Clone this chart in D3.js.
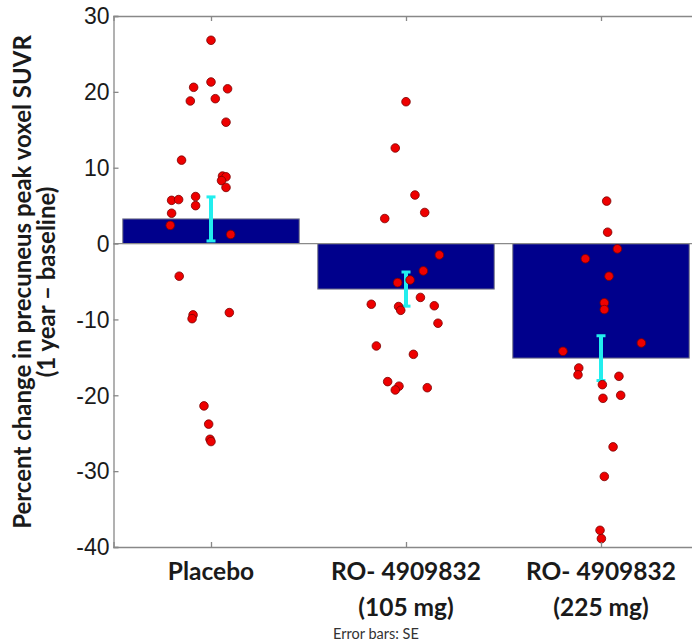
<!DOCTYPE html>
<html>
<head>
<meta charset="utf-8">
<script src="https://cdn.jsdelivr.net/npm/d3@7"></script>
<style>
  body { margin: 0; background: #fff; }
  svg { display: block; }
</style>
</head>
<body>
<script>
// groups and their summary stats
var groups = ["Placebo", "RO- 4909832|(105 mg)", "RO- 4909832|(225 mg)"];
var means = [3.25, -6.0, -15.1];
var errSE = [2.9, 2.25, 2.95];

// individual subjects: value and jitter (in category units)
var placeboVals = [26.8, 21.3, 20.6, 20.4, 18.8, 19.1, 16.0, 11.0, 8.9, 8.8, 8.3, 7.4, 5.7, 5.8, 6.2, 5.0, 4.0, 2.4, 1.2, -4.3, -9.4, -9.9, -9.1, -21.4, -23.8, -25.8, -26.1];
var placeboJit = [0, 0, -0.089, 0.085, -0.106, 0.022, 0.077, -0.151, 0.059, 0.077, 0.054, 0.077, -0.202, -0.166, -0.079, -0.079, -0.202, -0.209, 0.101, -0.163, -0.092, -0.097, 0.094, -0.036, -0.012, -0.005, 0];

var lowVals = [18.7, 12.6, 6.4, 4.1, 3.3, -1.5, -3.6, -5.15, -4.8, -7.1, -8.0, -8.3, -8.8, -8.2, -10.5, -13.5, -14.6, -18.2, -18.8, -19.3, -19.0];
var lowJit = [0, -0.055, 0.046, 0.096, -0.109, 0.171, 0.089, -0.043, 0.021, 0.074, -0.178, -0.038, -0.027, 0.145, 0.164, -0.152, 0.038, -0.094, -0.036, -0.055, 0.109];

var highVals = [5.6, 1.5, -0.7, -2.0, -4.3, -7.8, -8.7, -13.1, -14.2, -16.4, -17.3, -17.5, -18.6, -20.4, -20.0, -26.8, -30.7, -37.8, -38.9];
var highJit = [0.029, 0.034, 0.084, -0.080, 0.041, 0.017, 0.017, 0.207, -0.195, -0.114, -0.118, 0.092, 0.007, 0.010, 0.101, 0.062, 0.017, -0.005, 0.002];

var yTicks = [30, 20, 10, 0, -10, -20, -30, -40];

var W = 692, H = 642;
var plotL = 113.5, plotT = 16, plotB = 547, plotR = 698.5;

var svg = d3.select("body").append("svg")
	.attr("width", W)
	.attr("height", H);

var x = d3.scaleLinear().domain([-0.5, 2.5]).range([plotL, plotR]);
var y = d3.scaleLinear().domain([-40, 30]).range([plotB, plotT]);
var barW = 0.905;

var points = [];
[placeboVals, lowVals, highVals].forEach(function (vals, g) {
	var jit = [placeboJit, lowJit, highJit][g];
	vals.forEach(function (v, i) { points.push({g: g, v: v, j: jit[i]}); });
});

// bars
svg.append("g").selectAll("rect")
	.data(means)
	.enter().append("rect")
	.attr("x", function (d, i) { return x(i - barW / 2); })
	.attr("width", x(barW) - x(0))
	.attr("y", function (d) { return y(Math.max(0, d)); })
	.attr("height", function (d) { return Math.abs(y(d) - y(0)); })
	.attr("fill", "#00008c")
	.attr("stroke", "#7a7a8a")
	.attr("stroke-width", 1);

// baseline at 0
svg.append("line")
	.attr("x1", plotL).attr("x2", W)
	.attr("y1", y(0)).attr("y2", y(0))
	.attr("stroke", "#8a8a8a")
	.attr("stroke-width", 1.2);

// error bars
var eb = svg.append("g").selectAll("g")
	.data(means)
	.enter().append("g")
	.attr("stroke", "#22eeee");
eb.append("line")
	.attr("x1", function (d, i) { return x(i); })
	.attr("x2", function (d, i) { return x(i); })
	.attr("y1", function (d, i) { return y(d + errSE[i]); })
	.attr("y2", function (d, i) { return y(d - errSE[i]); })
	.attr("stroke-width", 4);
eb.selectAll(".cap")
	.data(function (d, i) { return [{i: i, v: d + errSE[i]}, {i: i, v: d - errSE[i]}]; })
	.enter().append("line")
	.attr("class", "cap")
	.attr("x1", function (d) { return x(d.i) - 4.5; })
	.attr("x2", function (d) { return x(d.i) + 4.5; })
	.attr("y1", function (d) { return y(d.v); })
	.attr("y2", function (d) { return y(d.v); })
	.attr("stroke-width", 3);

// subject points
svg.append("g").selectAll("circle")
	.data(points)
	.enter().append("circle")
	.attr("cx", function (d) { return x(d.g + d.j); })
	.attr("cy", function (d) { return y(d.v); })
	.attr("r", 4.3)
	.attr("fill", "#ee0000")
	.attr("stroke", "#7a0000")
	.attr("stroke-width", 0.8);

// axes box (left, bottom, top) with inward ticks
var axisCol = "#888";
var yAxis = svg.append("g")
	.attr("transform", "translate(" + plotL + ",0)")
	.call(d3.axisRight(y).tickValues(yTicks).tickSize(5).tickFormat(""));
var xAxis = svg.append("g")
	.attr("transform", "translate(0," + plotB + ")")
	.call(d3.axisTop(x).tickValues([0, 1, 2]).tickSize(5).tickFormat(""));
var xTop = svg.append("g")
	.attr("transform", "translate(0," + plotT + ")")
	.call(d3.axisBottom(x).tickValues([0, 1, 2]).tickSize(5).tickFormat(""));
[yAxis, xAxis, xTop].forEach(function (a) {
	a.selectAll("path, line").attr("stroke", axisCol).attr("stroke-width", 1.3);
});

// y tick labels
svg.append("g").selectAll("text")
	.data(yTicks)
	.enter().append("text")
	.attr("x", plotL - 4)
	.attr("y", function (d) { return y(d); })
	.attr("dy", "0.36em")
	.attr("text-anchor", "end")
	.style("font-family", "'Liberation Sans', Arial, sans-serif")
	.style("font-size", "23px")
	.style("fill", "#1a1a1a")
	.text(String);

// category labels
var cat = svg.append("g").selectAll("text")
	.data(groups)
	.enter().append("text")
	.attr("x", function (d, i) { return x(i); })
	.attr("y", 580)
	.attr("text-anchor", "middle")
	.style("font-family", "Lato, 'Open Sans', sans-serif")
	.style("font-weight", "bold")
	.style("font-size", "24.5px")
	.style("fill", "#1a1a1a");
cat.selectAll("tspan")
	.data(function (d) { return d.split("|"); })
	.enter().append("tspan")
	.attr("x", function () { return d3.select(this.parentNode).attr("x"); })
	.attr("dy", function (d, i) { return i ? 36 : 0; })
	.text(String);

// footnote
svg.append("text")
	.attr("x", 376)
	.attr("y", 639)
	.attr("text-anchor", "middle")
	.style("font-family", "Lato, 'Open Sans', sans-serif")
	.style("font-size", "14.5px")
	.style("fill", "#333")
	.text("Error bars: SE");

// y axis title
var yt = svg.append("text")
	.attr("transform", "translate(0," + 282 + ") rotate(-90)")
	.attr("text-anchor", "middle")
	.style("font-family", "Lato, 'Open Sans', sans-serif")
	.style("font-weight", "bold")
	.style("font-size", "24px")
	.style("fill", "#1a1a1a");
yt.append("tspan").attr("x", 0).attr("y", 31).text("Percent change in precuneus peak voxel SUVR");
yt.append("tspan").attr("x", 0).attr("y", 55).text("(1 year \u2013 baseline)");
</script>
</body>
</html>
